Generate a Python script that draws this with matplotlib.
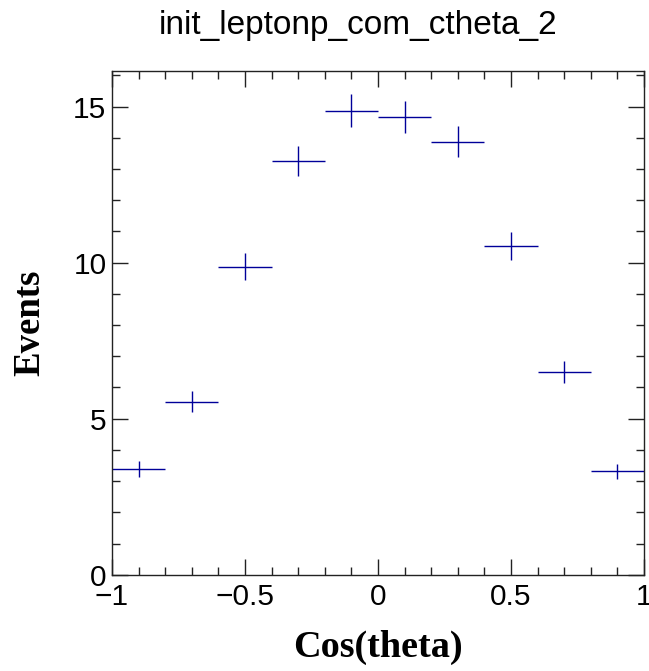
import numpy as np
import matplotlib
matplotlib.use('Agg')
import matplotlib.pyplot as plt
from matplotlib.ticker import MultipleLocator, FuncFormatter

# histogram content
bin_centers = [-0.9, -0.7, -0.5, -0.3, -0.1, 0.1, 0.3, 0.5, 0.7, 0.9]
bin_half_width = 0.1
events = [3.39, 5.55, 9.87, 13.26, 14.87, 14.68, 13.88, 10.52, 6.49, 3.31]
errors = [0.25, 0.33, 0.44, 0.48, 0.52, 0.51, 0.50, 0.45, 0.36, 0.25]

title = 'init_leptonp_com_ctheta_2'
xlabel = 'Cos(theta)'
ylabel = 'Events'

sans = ['Liberation Sans', 'DejaVu Sans']
serif = ['Liberation Serif', 'DejaVu Serif']

fig = plt.figure(figsize=(6.49, 6.71), dpi=100)
ax = fig.add_axes([0.1726, 0.1435, 0.8197, 0.7511])

ax.errorbar(bin_centers, events, xerr=bin_half_width, yerr=errors,
            fmt='none', ecolor='#000099', elinewidth=1.0, capsize=0)

ax.set_xlim(-1, 1)
ax.set_ylim(0, 16.15)
ax.xaxis.set_major_locator(MultipleLocator(0.5))
ax.xaxis.set_minor_locator(MultipleLocator(0.1))
ax.yaxis.set_major_locator(MultipleLocator(5))
ax.yaxis.set_minor_locator(MultipleLocator(1))
ax.xaxis.set_major_formatter(FuncFormatter(
    lambda v, p: ('\u2212' if v < 0 else '') + ('%g' % abs(v))))

ax.tick_params(which='both', direction='in', top=True, right=True,
               color='#222222', width=1.0)
ax.tick_params(which='major', length=11.5)
ax.tick_params(which='minor', length=5.8)
ax.tick_params(axis='x', which='major', pad=6)
ax.tick_params(axis='y', which='major', pad=4)
for lab in ax.get_xticklabels() + ax.get_yticklabels():
    lab.set_family(sans)
    lab.set_fontsize(21.5)
for sp in ax.spines.values():
    sp.set_linewidth(1.0)
    sp.set_color('#222222')

fig.text(0.552, 0.962, title, ha='center', va='center',
         family=sans, fontsize=24)
ax.set_xlabel(xlabel, family=serif, fontweight='bold', fontsize=27.5)
ax.xaxis.set_label_coords(0.5, -0.145)
ax.xaxis.label.set_va('center')
ax.set_ylabel(ylabel, family=serif, fontweight='bold', fontsize=26.5)
ax.yaxis.set_label_coords(-0.154, 0.5)
ax.yaxis.label.set_va('center')

fig.savefig('out.png', dpi=100)
